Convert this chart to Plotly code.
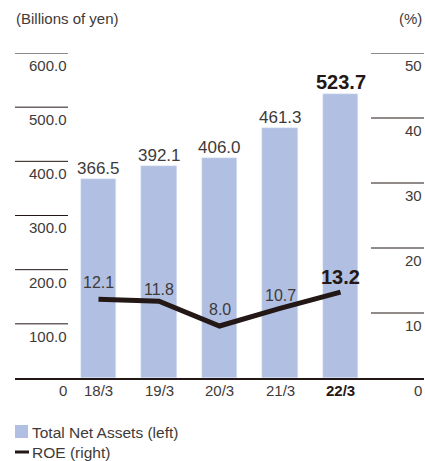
import plotly.graph_objects as go

categories = ["18/3", "19/3", "20/3", "21/3", "22/3"]
tick_text = ["18/3", "19/3", "20/3", "21/3", "<b>22/3</b>"]
net_assets = [366.5, 392.1, 406.0, 461.3, 523.7]
roe = [12.1, 11.8, 8.0, 10.7, 13.2]
left_ticks = [0, 100, 200, 300, 400, 500, 600]
left_tick_labels = ["0", "100.0", "200.0", "300.0", "400.0", "500.0", "600.0"]
right_ticks = [0, 10, 20, 30, 40, 50]
right_tick_labels = ["0", "10", "20", "30", "40", "50"]

W, H = 425, 461
BAR = "#b1c0e2"
DARK = "#231815"
TXT = "#3e3a39"
FONT = "Liberation Sans, Arial, sans-serif"
ROE_LABEL_SHIFT = [6, 1, 6, 2, 2]

xs = list(range(len(categories)))

fig = go.Figure()
fig.add_trace(go.Bar(x=xs, y=net_assets, marker_color=BAR, width=0.58,
                     name="Total Net Assets (left)", showlegend=False))
fig.add_trace(go.Scatter(x=xs, y=roe, yaxis="y2", mode="lines",
                         line=dict(color=DARK, width=5), name="ROE (right)",
                         showlegend=False))

ann = []
shapes = []
# left ticks
for v, t in zip(left_ticks, left_tick_labels):
    if v != 0:
        shapes.append(dict(type="line", xref="paper", yref="y", x0=15/W, x1=68/W,
                           y0=v, y1=v, line=dict(color=DARK, width=1)))
    ann.append(dict(xref="paper", yref="y", x=69/W, y=v, text=t, showarrow=False,
                    xanchor="right", yanchor="top", yshift=-2,
                    font=dict(size=15, color=TXT, family=FONT)))
for v, t in zip(right_ticks, right_tick_labels):
    if v != 0:
        shapes.append(dict(type="line", xref="paper", yref="y2", x0=371/W, x1=424/W,
                           y0=v, y1=v, line=dict(color=DARK, width=1)))
    ann.append(dict(xref="paper", yref="y2", x=424/W, y=v, text=t, showarrow=False,
                    xanchor="right", yanchor="top", yshift=-2,
                    font=dict(size=15, color=TXT, family=FONT)))
# bar labels
for i, v in enumerate(net_assets):
    last = i == len(net_assets) - 1
    ann.append(dict(x=i, y=v, xref="x", yref="y",
                    text=(f"<b>{v:.1f}</b>" if last else f"{v:.1f}"),
                    showarrow=False, yanchor="bottom", yshift=-1,
                    font=dict(size=20 if last else 17, color=DARK if last else TXT, family=FONT)))
# ROE labels
for i, v in enumerate(roe):
    last = i == len(roe) - 1
    ann.append(dict(x=i, y=v, xref="x", yref="y2",
                    text=(f"<b>{v:.1f}</b>" if last else f"{v:.1f}"),
                    showarrow=False, yanchor="bottom", yshift=ROE_LABEL_SHIFT[i],
                    font=dict(size=20 if last else 16, color=DARK if last else TXT, family=FONT)))
# x category labels
for i, t in enumerate(tick_text):
    ann.append(dict(x=i, y=0, xref="x", yref="y", text=t, showarrow=False,
                    yanchor="top", yshift=-2,
                    font=dict(size=15, color=DARK if i == len(tick_text) - 1 else TXT, family=FONT)))
# axis titles
ann.append(dict(xref="paper", yref="paper", x=14/W, y=1-8/H, text="(Billions of yen)",
                showarrow=False, xanchor="left", yanchor="top",
                font=dict(size=15, color=TXT, family=FONT)))
ann.append(dict(xref="paper", yref="paper", x=424/W, y=1-8/H, text="(%)",
                showarrow=False, xanchor="right", yanchor="top",
                font=dict(size=15, color=TXT, family=FONT)))
# legend
shapes.append(dict(type="rect", xref="paper", yref="paper", x0=15/W, x1=28/W,
                   y0=1-438/H, y1=1-425/H, fillcolor=BAR, line=dict(width=0)))
shapes.append(dict(type="line", xref="paper", yref="paper", x0=15/W, x1=29/W,
                   y0=1-452/H, y1=1-452/H, line=dict(color=DARK, width=3)))
ann.append(dict(xref="paper", yref="paper", x=30/W, y=1-432/H, text="Total Net Assets (left)",
                showarrow=False, xanchor="left", yanchor="middle",
                font=dict(size=15.5, color=TXT, family=FONT)))
ann.append(dict(xref="paper", yref="paper", x=30/W, y=1-452/H, text="ROE (right)",
                showarrow=False, xanchor="left", yanchor="middle",
                font=dict(size=15.5, color=TXT, family=FONT)))

y0 = 1 - 378/H
y1 = 1 - 53/H
fig.update_layout(
    width=W, height=H, margin=dict(l=0, r=0, t=0, b=0),
    paper_bgcolor="white", plot_bgcolor="white",
    xaxis=dict(domain=[15/W, 424/W], range=[-1.38, 5.38],
               showticklabels=False, showgrid=False, zeroline=False,
               showline=True, linecolor=DARK, linewidth=1.5, ticks="", fixedrange=True),
    yaxis=dict(domain=[y0, y1], range=[0, 600], showgrid=False, zeroline=False,
               showticklabels=False, ticks=""),
    yaxis2=dict(domain=[y0, y1], range=[0, 50], overlaying="y", side="right",
                showgrid=False, zeroline=False, showticklabels=False, ticks=""),
    annotations=ann, shapes=shapes, bargap=0,
)
fig.write_html("out.html", config={"displayModeBar": False},
               post_script="document.body.style.margin='0';document.body.style.overflow='hidden';")
